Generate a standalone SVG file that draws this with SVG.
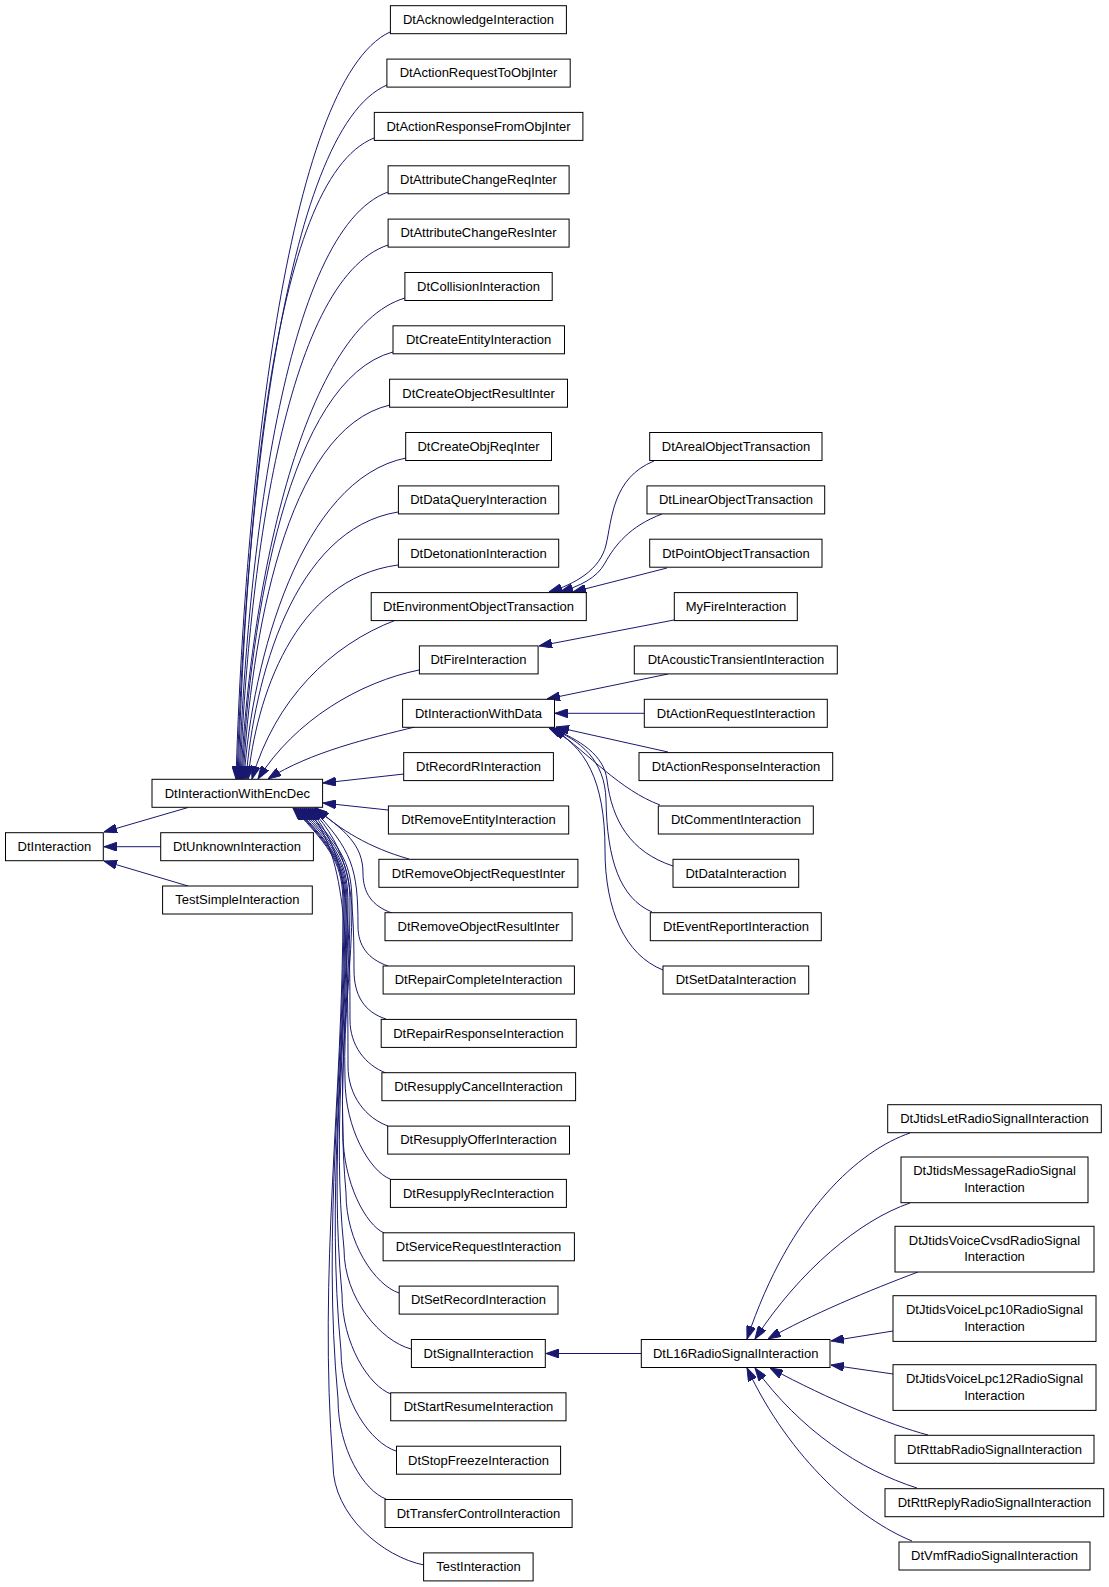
<svg xmlns="http://www.w3.org/2000/svg" width="1109" height="1587" viewBox="0 0 1109 1587">
<style>
.n rect{fill:#fff;stroke:#000;stroke-width:1}
.n text{font-family:"Liberation Sans",Arial,sans-serif;font-size:13px;text-anchor:middle;fill:#000}
.e path{fill:none;stroke:#191970;stroke-width:1;marker-end:url(#a)}
</style>
<defs>
<marker id="a" markerUnits="userSpaceOnUse" markerWidth="13" markerHeight="9" refX="13" refY="4.5" orient="auto"><path d="M0,0 L13,4.5 L0,9 z" fill="#191970" stroke="#191970"/></marker>
</defs>
<rect width="1109" height="1587" fill="#fff"/>
<g class="e" id="edges">
<path d="M188,807.5 L104,832"/>
<path d="M160.7,846.7 L104,846.7"/>
<path d="M188,886 L104,861"/>
<path d="M390,32 C285,81 244,503 236,779"/>
<path d="M387,85 C282,130 245,522 237,779"/>
<path d="M374,138 C269,180 246,542 238,779"/>
<path d="M388,192 C283,230 247,562 239,779"/>
<path d="M388,245 C283,280 248,581 240,779"/>
<path d="M405,298 C300,329 249,601 241,779"/>
<path d="M393,352 C288,380 250,621 242,779"/>
<path d="M390,405 C285,429 251,641 243,779"/>
<path d="M406,458 C301,479 252,660 244,779"/>
<path d="M398,512 C293,529 254,680 246,779"/>
<path d="M398,565 C293,579 256,700 248,779"/>
<path d="M396,620 C330,645 275,700 252,779"/>
<path d="M419,670 C360,682 295,720 258,779"/>
<path d="M415,727 C370,738 310,752 268,779"/>
<path d="M404,774 L323,783"/>
<path d="M388,810 L323,803"/>
<path d="M409,859 C370,848 340,830 316,808"/>
<path d="M392,913 C372,906 363,893 363,873 C363,845 345,830 314,808"/>
<path d="M388,966 C368,959 358,946 358,926 C358,868 352,850 312,808"/>
<path d="M386,1019 C364,1012 354,995 354,970 C354,890 350,850 310,808"/>
<path d="M386,1073 C365,1065 350,1045 350,1020 C350,915 348,850 308,808"/>
<path d="M388,1126 C366,1118 348,1096 348,1066 C348,938 346,850 306,808"/>
<path d="M390,1179 C370,1171 345,1129 345,1079 C343,1018 352,966 352,905 C352,865 344,850 304,808"/>
<path d="M384,1233 C366,1225 343,1183 343,1133 C340,1053 350,985 350,905 C350,865 342,850 302,808"/>
<path d="M399,1293 C375,1285 346,1243 346,1193 C337,1092 348,1006 348,905 C348,865 340,850 300,808"/>
<path d="M411,1349 C381,1341 344,1299 344,1249 C332,1129 347,1025 347,905 C347,865 338,850 298,808"/>
<path d="M391,1394 C369,1386 342,1344 342,1294 C329,1158 346,1041 346,905 C346,865 336,850 296,808"/>
<path d="M396,1451 C371,1443 341,1401 341,1351 C326,1195 345,1061 345,905 C345,865 335,850 295,808"/>
<path d="M386,1499 C364,1491 338,1449 338,1399 C322,1226 344,1078 344,905 C344,865 334,850 294,808"/>
<path d="M424,1565 C383,1557 333,1515 333,1465 C318,1269 343,1101 343,905 C343,865 333,850 293,808"/>
<path d="M654,461 C612,478 612,520 606,545 C600,570 575,584 549,592"/>
<path d="M662,514 C630,526 615,545 605,563 C597,578 580,586 560,592"/>
<path d="M667,568 L573,592"/>
<path d="M674,620 L539,646"/>
<path d="M668,674 L547,699"/>
<path d="M644,713.3 L555,713.3"/>
<path d="M668,752 L556,727"/>
<path d="M660,805 C620,790 590,755 553,728"/>
<path d="M673,866 C630,852 612,820 607,780 C604,755 580,740 551,728"/>
<path d="M652,912 C620,898 607,860 606,800 C605,760 580,740 550,728"/>
<path d="M663,970 C625,955 605,910 605,850 C605,780 585,745 549,728"/>
<path d="M641,1353.5 L546,1353.5"/>
<path d="M910,1133 C860,1150 790,1210 747,1339"/>
<path d="M910,1203 C860,1220 800,1270 755,1339"/>
<path d="M918,1272 C870,1290 810,1315 768,1339"/>
<path d="M893,1331 L831,1341"/>
<path d="M893,1374 L831,1365"/>
<path d="M928,1435 C890,1425 830,1400 770,1368"/>
<path d="M917,1488 C860,1470 800,1430 755,1368"/>
<path d="M912,1541 C860,1520 790,1460 747,1368"/>
</g>
<g class="n" id="DtInteraction"><rect x="5.5" y="832.7" width="97.8" height="28"/><text x="54.4" y="851">DtInteraction</text></g>
<g class="n" id="DtInteractionWithEncDec"><rect x="152" y="779.3" width="170.6" height="28"/><text x="237.3" y="797.6">DtInteractionWithEncDec</text></g>
<g class="n" id="DtUnknownInteraction"><rect x="160.7" y="832.7" width="152.7" height="28"/><text x="237" y="851">DtUnknownInteraction</text></g>
<g class="n" id="TestSimpleInteraction"><rect x="162.6" y="886" width="149.7" height="28"/><text x="237.4" y="904.3">TestSimpleInteraction</text></g>
<g class="n" id="DtAcknowledgeInteraction"><rect x="390.4" y="5.7" width="176" height="28"/><text x="478.5" y="24">DtAcknowledgeInteraction</text></g>
<g class="n" id="DtActionRequestToObjInter"><rect x="386.9" y="59.1" width="183.3" height="28"/><text x="478.5" y="77.4">DtActionRequestToObjInter</text></g>
<g class="n" id="DtActionResponseFromObjInter"><rect x="374.3" y="112.4" width="208.6" height="28"/><text x="478.5" y="130.7">DtActionResponseFromObjInter</text></g>
<g class="n" id="DtAttributeChangeReqInter"><rect x="388.1" y="165.8" width="181" height="28"/><text x="478.5" y="184.1">DtAttributeChangeReqInter</text></g>
<g class="n" id="DtAttributeChangeResInter"><rect x="388.1" y="219.1" width="181" height="28"/><text x="478.5" y="237.4">DtAttributeChangeResInter</text></g>
<g class="n" id="DtCollisionInteraction"><rect x="404.9" y="272.5" width="147.3" height="28"/><text x="478.5" y="290.8">DtCollisionInteraction</text></g>
<g class="n" id="DtCreateEntityInteraction"><rect x="393" y="325.8" width="171.5" height="28"/><text x="478.5" y="344.1">DtCreateEntityInteraction</text></g>
<g class="n" id="DtCreateObjectResultInter"><rect x="389.6" y="379.2" width="177.9" height="28"/><text x="478.5" y="397.5">DtCreateObjectResultInter</text></g>
<g class="n" id="DtCreateObjReqInter"><rect x="405.7" y="432.5" width="145.8" height="28"/><text x="478.5" y="450.8">DtCreateObjReqInter</text></g>
<g class="n" id="DtDataQueryInteraction"><rect x="398.4" y="485.9" width="160.3" height="28"/><text x="478.5" y="504.2">DtDataQueryInteraction</text></g>
<g class="n" id="DtDetonationInteraction"><rect x="398.4" y="539.2" width="160.3" height="28"/><text x="478.5" y="557.5">DtDetonationInteraction</text></g>
<g class="n" id="DtEnvironmentObjectTransaction"><rect x="371.2" y="592.6" width="215.1" height="28"/><text x="478.5" y="610.9">DtEnvironmentObjectTransaction</text></g>
<g class="n" id="DtFireInteraction"><rect x="419.4" y="645.9" width="118.7" height="28"/><text x="478.5" y="664.2">DtFireInteraction</text></g>
<g class="n" id="DtInteractionWithData"><rect x="402.6" y="699.3" width="151.9" height="28"/><text x="478.5" y="717.6">DtInteractionWithData</text></g>
<g class="n" id="DtRecordRInteraction"><rect x="403.7" y="752.6" width="149.7" height="28"/><text x="478.5" y="770.9">DtRecordRInteraction</text></g>
<g class="n" id="DtRemoveEntityInteraction"><rect x="388.4" y="806" width="180.3" height="28"/><text x="478.5" y="824.3">DtRemoveEntityInteraction</text></g>
<g class="n" id="DtRemoveObjectRequestInter"><rect x="378.9" y="859.3" width="199" height="28"/><text x="478.5" y="877.6">DtRemoveObjectRequestInter</text></g>
<g class="n" id="DtRemoveObjectResultInter"><rect x="385" y="912.7" width="187.1" height="28"/><text x="478.5" y="931">DtRemoveObjectResultInter</text></g>
<g class="n" id="DtRepairCompleteInteraction"><rect x="383.1" y="966" width="191.3" height="28"/><text x="478.5" y="984.3">DtRepairCompleteInteraction</text></g>
<g class="n" id="DtRepairResponseInteraction"><rect x="381.2" y="1019.4" width="195.1" height="28"/><text x="478.5" y="1037.7">DtRepairResponseInteraction</text></g>
<g class="n" id="DtResupplyCancelInteraction"><rect x="381.9" y="1072.7" width="193.7" height="28"/><text x="478.5" y="1091">DtResupplyCancelInteraction</text></g>
<g class="n" id="DtResupplyOfferInteraction"><rect x="387.7" y="1126.1" width="181.8" height="28"/><text x="478.5" y="1144.4">DtResupplyOfferInteraction</text></g>
<g class="n" id="DtResupplyRecInteraction"><rect x="390.4" y="1179.4" width="176" height="28"/><text x="478.5" y="1197.7">DtResupplyRecInteraction</text></g>
<g class="n" id="DtServiceRequestInteraction"><rect x="383.1" y="1232.8" width="191.3" height="28"/><text x="478.5" y="1251.1">DtServiceRequestInteraction</text></g>
<g class="n" id="DtSetRecordInteraction"><rect x="399.2" y="1286.1" width="158.8" height="28"/><text x="478.5" y="1304.4">DtSetRecordInteraction</text></g>
<g class="n" id="DtSignalInteraction"><rect x="411.4" y="1339.5" width="133.9" height="28"/><text x="478.5" y="1357.8">DtSignalInteraction</text></g>
<g class="n" id="DtStartResumeInteraction"><rect x="390.7" y="1392.8" width="175.3" height="28"/><text x="478.5" y="1411.1">DtStartResumeInteraction</text></g>
<g class="n" id="DtStopFreezeInteraction"><rect x="396.5" y="1446.2" width="164.1" height="28"/><text x="478.5" y="1464.5">DtStopFreezeInteraction</text></g>
<g class="n" id="DtTransferControlInteraction"><rect x="385" y="1499.5" width="187.1" height="28"/><text x="478.5" y="1517.8">DtTransferControlInteraction</text></g>
<g class="n" id="TestInteraction"><rect x="423.6" y="1552.9" width="109.5" height="28"/><text x="478.5" y="1571.2">TestInteraction</text></g>
<g class="n" id="DtArealObjectTransaction"><rect x="649.7" y="432.5" width="172.3" height="28"/><text x="736" y="450.8">DtArealObjectTransaction</text></g>
<g class="n" id="DtLinearObjectTransaction"><rect x="647" y="485.9" width="177.7" height="28"/><text x="736" y="504.2">DtLinearObjectTransaction</text></g>
<g class="n" id="DtPointObjectTransaction"><rect x="649.7" y="539.2" width="172.3" height="28"/><text x="736" y="557.5">DtPointObjectTransaction</text></g>
<g class="n" id="MyFireInteraction"><rect x="674.3" y="592.6" width="123" height="28"/><text x="736" y="610.9">MyFireInteraction</text></g>
<g class="n" id="DtAcousticTransientInteraction"><rect x="634.3" y="645.9" width="203" height="28"/><text x="736" y="664.2">DtAcousticTransientInteraction</text></g>
<g class="n" id="DtActionRequestInteraction"><rect x="644.3" y="699.3" width="183" height="28"/><text x="736" y="717.6">DtActionRequestInteraction</text></g>
<g class="n" id="DtActionResponseInteraction"><rect x="639" y="752.6" width="193.7" height="28"/><text x="736" y="770.9">DtActionResponseInteraction</text></g>
<g class="n" id="DtCommentInteraction"><rect x="658.3" y="806" width="155" height="28"/><text x="736" y="824.3">DtCommentInteraction</text></g>
<g class="n" id="DtDataInteraction"><rect x="673" y="859.3" width="125.7" height="28"/><text x="736" y="877.6">DtDataInteraction</text></g>
<g class="n" id="DtEventReportInteraction"><rect x="650.3" y="912.7" width="171" height="28"/><text x="736" y="931">DtEventReportInteraction</text></g>
<g class="n" id="DtSetDataInteraction"><rect x="663" y="966" width="145.7" height="28"/><text x="736" y="984.3">DtSetDataInteraction</text></g>
<g class="n" id="DtL16RadioSignalInteraction"><rect x="641.3" y="1339.5" width="188.7" height="28"/><text x="735.7" y="1357.8">DtL16RadioSignalInteraction</text></g>
<g class="n" id="DtJtidsLetRadioSignalInteraction"><rect x="887.7" y="1104.7" width="213.6" height="28"/><text x="994.5" y="1123">DtJtidsLetRadioSignalInteraction</text></g>
<g class="n" id="DtJtidsMessageRadioSignalInteraction"><rect x="901" y="1157" width="187" height="45.7"/><text x="994.5" y="1175.3">DtJtidsMessageRadioSignal</text><text x="994.5" y="1191.9">Interaction</text></g>
<g class="n" id="DtJtidsVoiceCvsdRadioSignalInteraction"><rect x="895" y="1226.3" width="199" height="45.7"/><text x="994.5" y="1244.6">DtJtidsVoiceCvsdRadioSignal</text><text x="994.5" y="1261.2">Interaction</text></g>
<g class="n" id="DtJtidsVoiceLpc10RadioSignalInteraction"><rect x="893" y="1295.7" width="203" height="45.7"/><text x="994.5" y="1314">DtJtidsVoiceLpc10RadioSignal</text><text x="994.5" y="1330.6">Interaction</text></g>
<g class="n" id="DtJtidsVoiceLpc12RadioSignalInteraction"><rect x="893" y="1364.7" width="203" height="45.7"/><text x="994.5" y="1383">DtJtidsVoiceLpc12RadioSignal</text><text x="994.5" y="1399.6">Interaction</text></g>
<g class="n" id="DtRttabRadioSignalInteraction"><rect x="895" y="1435.3" width="199" height="28"/><text x="994.5" y="1453.6">DtRttabRadioSignalInteraction</text></g>
<g class="n" id="DtRttReplyRadioSignalInteraction"><rect x="885" y="1488.7" width="218.7" height="28"/><text x="994.5" y="1507">DtRttReplyRadioSignalInteraction</text></g>
<g class="n" id="DtVmfRadioSignalInteraction"><rect x="899" y="1542" width="191" height="28"/><text x="994.5" y="1560.3">DtVmfRadioSignalInteraction</text></g>
</svg>
